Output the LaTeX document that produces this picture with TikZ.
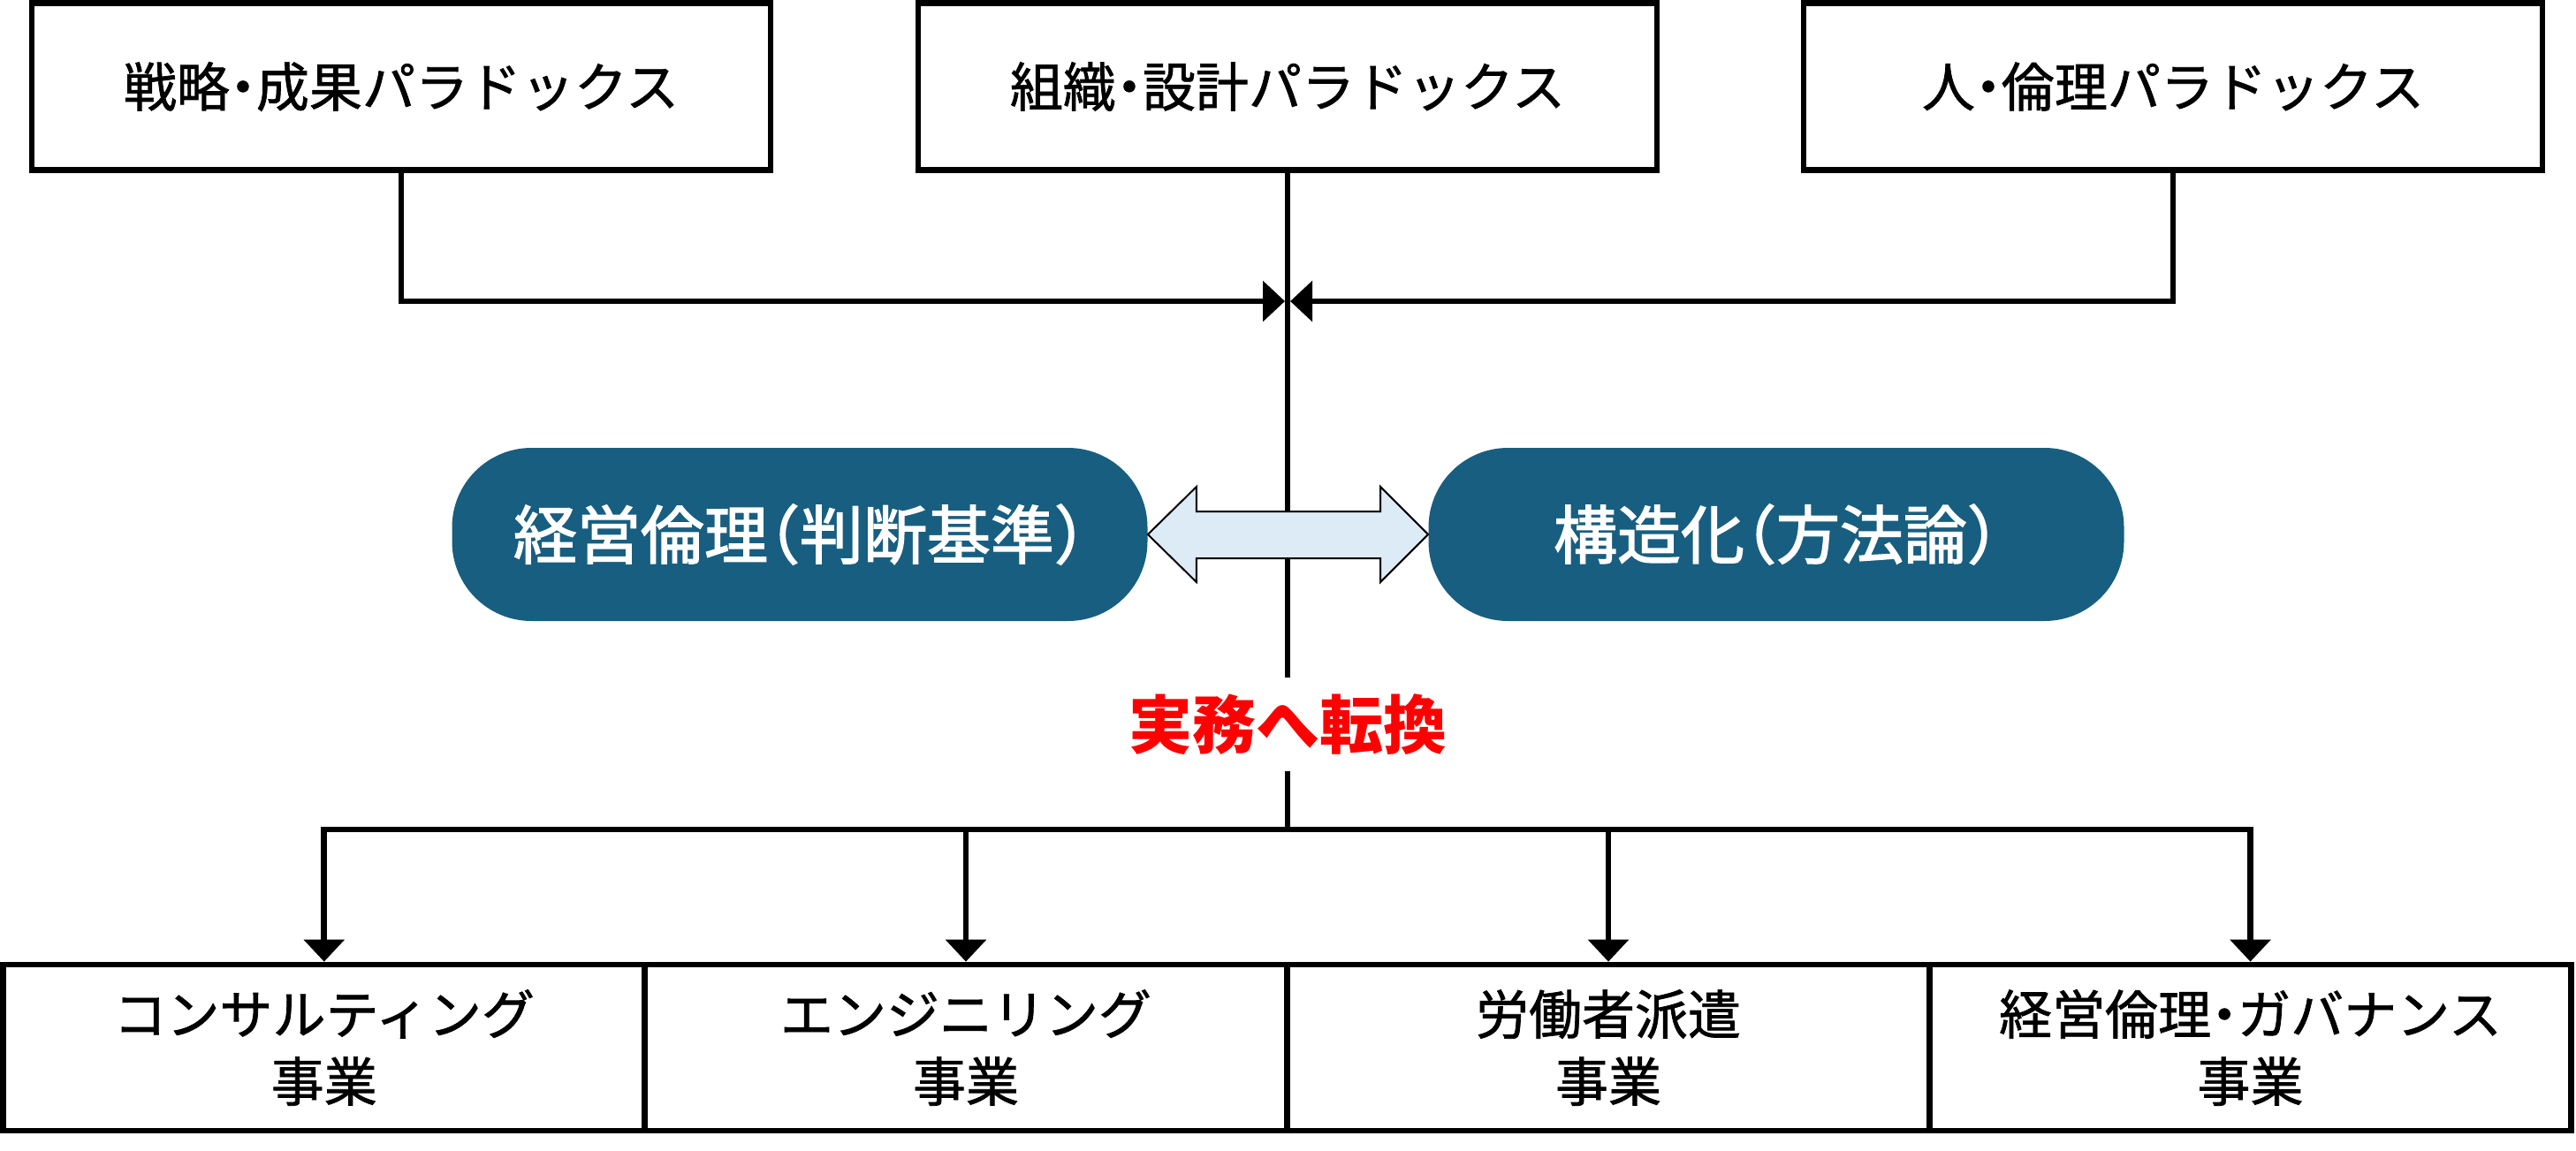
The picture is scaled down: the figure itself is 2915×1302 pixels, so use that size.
\documentclass[tikz,border=0pt]{standalone}
\usepackage{fontspec}
\setmainfont{Noto Sans CJK JP}
\newfontfamily\jpmed[FakeBold=1.2]{Noto Sans CJK JP}
\newfontfamily\jppill[FakeBold=2]{Noto Sans CJK JP}
\usetikzlibrary{arrows.meta,calc}
\definecolor{pillblue}{RGB}{24,94,128}
\definecolor{arrowfill}{RGB}{221,235,247}
\definecolor{redtext}{RGB}{255,0,0}
\newcommand\hp[1]{{\addfontfeature{RawFeature=+halt}#1}}
\begin{document}
\begin{tikzpicture}[x=0.5pt,y=-0.5pt,
  topbox/.style={draw,line width=3.35pt,minimum width=418pt,minimum height=94.5pt,inner sep=0pt,font=\jpmed\fontsize{30}{36}\selectfont},
  cellbox/.style={draw,line width=3.35pt,minimum width=363.25pt,minimum height=94pt,inner sep=0pt,align=center,font=\jpmed\fontsize{30}{38}\selectfont},
  pill/.style={fill=pillblue,text=white,rounded corners=45pt,minimum width=393.5pt,minimum height=98pt,inner sep=0pt,font=\jppill\fontsize{36}{40}\selectfont},
  conn/.style={line width=3.35pt},
  tiparrow/.style={-{Triangle[length=12.5pt,width=22.5pt]}},
  dblarrow/.style={draw=black,line width=1pt,fill=arrowfill,line join=miter}
]
\fill[white] (0,0) rectangle (2915,1302);
\useasboundingbox (0,0) rectangle (2915,1302);

% top boxes
\node[topbox] (b1) at (454,98) {\raisebox{-2.5pt}{戦略\hp{・}成果パラドックス}};
\node[topbox] (b2) at (1457,98) {\raisebox{-2.5pt}{組織\hp{・}設計パラドックス}};
\node[topbox] (b3) at (2459,98) {\raisebox{-2.5pt}{人\hp{・}倫理パラドックス}};

\coordinate (j) at (1457,341);
\coordinate (hub) at (1457,939);

% pills
\node[pill] (p1) at (905,605) {経営倫理\hp{（}判断基準\hp{）}};
\node[pill] (p2) at (2010,605) {構造化\hp{（}方法論\hp{）}};

% red label
\node[text=redtext,font=\fontsize{36}{40}\selectfont\bfseries,minimum height=53pt,inner sep=0pt] (red) at (1457,820) {\raisebox{-1.5pt}{実務へ転換}};

% bottom cells
\node[cellbox] (c1) at (366.75,1186) {コンサルティング\\事業};
\node[cellbox] (c2) at (1093,1186) {エンジニリング\\事業};
\node[cellbox] (c3) at (1820,1186) {労働者派遣\\事業};
\node[cellbox] (c4) at (2546.5,1186) {経営倫理\hp{・}ガバナンス\\事業};

% vertical trunk
\draw[conn] (b2.south) -- (red.north);
\draw[conn] (red.south) -- (hub);

% top connectors
\draw[conn,tiparrow] (b1.south) |- ([xshift=-1.5pt]j);
\draw[conn,tiparrow] (b3.south) |- ([xshift=1.5pt]j);

% double arrow between pills
\draw[dblarrow] (p1.east) -- ($(p1.east)+(55,-54)$) -- ($(p1.east)+(55,-26)$)
  -- ($(p2.west)+(-54,-26)$) -- ($(p2.west)+(-54,-54)$) -- (p2.west)
  -- ($(p2.west)+(-54,54)$) -- ($(p2.west)+(-54,27)$)
  -- ($(p1.east)+(55,27)$) -- ($(p1.east)+(55,54)$) -- cycle;

% bottom connectors
\draw[conn,tiparrow] (hub) -| (c1.north);
\draw[conn,tiparrow] (hub) -| (c2.north);
\draw[conn,tiparrow] (hub) -| (c3.north);
\draw[conn,tiparrow] (hub) -| (c4.north);
\end{tikzpicture}
\end{document}
